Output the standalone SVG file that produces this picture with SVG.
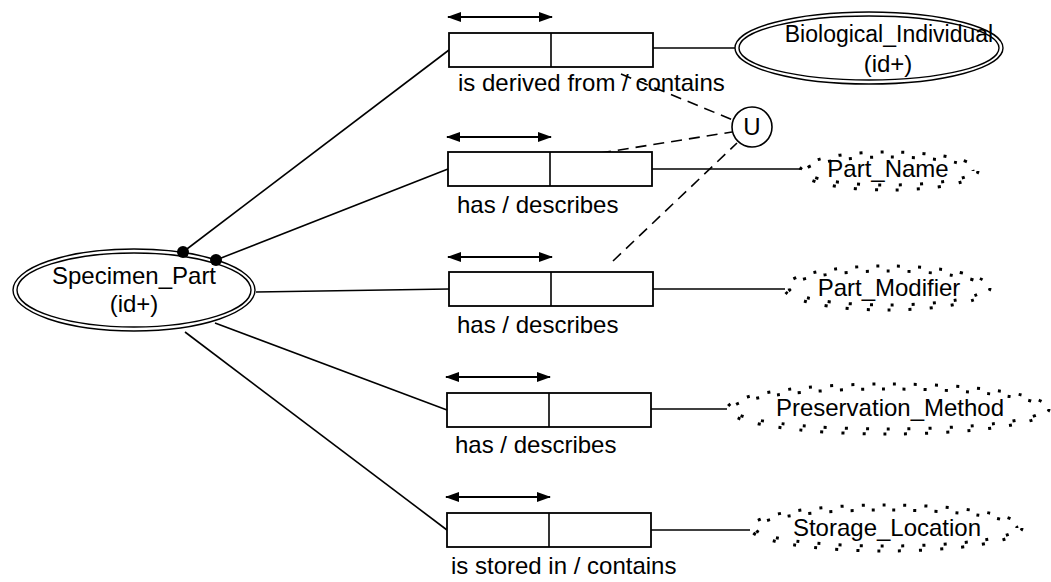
<svg xmlns="http://www.w3.org/2000/svg" width="1051" height="582" viewBox="0 0 1051 582">
<style>
text{font-family:"Liberation Sans",Arial,sans-serif;font-size:24px;fill:#000}
.c{text-anchor:middle}
.ln{stroke:#000;stroke-width:1.6;fill:none}
.dash{stroke:#000;stroke-width:1.6;fill:none;stroke-dasharray:11 7}
.box{fill:#fff;stroke:#000;stroke-width:1.8}
.dbl{fill:none;stroke:#000;stroke-width:1.4}
.dot{fill:none;stroke:#000;stroke-width:3;stroke-dasharray:3 18}
.arr{stroke:#000;stroke-width:2;marker-start:url(#ah);marker-end:url(#ah)}
</style>
<defs>
<marker id="ah" viewBox="0 0 14 10" refX="13" refY="5" markerWidth="14" markerHeight="10" markerUnits="userSpaceOnUse" orient="auto-start-reverse">
<path d="M0,0 L14,5 L0,10 Z" fill="#000"/>
</marker>
</defs>
<rect width="1051" height="582" fill="#fff"/>
<g id="connectors">
<line class="ln" x1="183" y1="252" x2="449" y2="50"/>
<line class="ln" x1="216" y1="260" x2="448" y2="169"/>
<line class="ln" x1="256" y1="292" x2="449" y2="289"/>
<line class="ln" x1="215" y1="323" x2="447" y2="410"/>
<line class="ln" x1="185" y1="332" x2="447" y2="530"/>
<line class="ln" x1="653" y1="48" x2="735" y2="48"/>
<line class="ln" x1="652" y1="169" x2="800" y2="169"/>
<line class="ln" x1="653" y1="289" x2="785" y2="289"/>
<line class="ln" x1="651" y1="409" x2="727" y2="409"/>
<line class="ln" x1="651" y1="530" x2="750" y2="530"/>
<line class="dash" x1="621" y1="74" x2="733" y2="120"/>
<line class="dash" x1="600" y1="153" x2="732" y2="132"/>
<line class="dash" x1="613" y1="261" x2="737" y2="143"/>
</g>
<g id="specimen_part">
<ellipse class="dbl" cx="134" cy="290" rx="121" ry="41"/>
<ellipse class="dbl" cx="134" cy="290" rx="117" ry="37"/>
<circle cx="183" cy="252" r="6" fill="#000"/>
<circle cx="216" cy="260" r="6" fill="#000"/>
<text class="c" x="134" y="284">Specimen_Part</text>
<text class="c" x="134" y="312">(id+)</text>
</g>
<g id="rel1">
<line class="arr" x1="448" y1="17" x2="552" y2="17"/>
<rect class="box" x="449" y="33" width="204" height="34"/>
<line class="ln" x1="551" y1="33" x2="551" y2="67"/>
<text x="458" y="91">is derived from / contains</text>
</g>
<g id="rel2">
<line class="arr" x1="447" y1="137" x2="551" y2="137"/>
<rect class="box" x="448" y="152" width="204" height="34"/>
<line class="ln" x1="550" y1="152" x2="550" y2="186"/>
<text x="457" y="213">has / describes</text>
</g>
<g id="rel3">
<line class="arr" x1="448" y1="257" x2="552" y2="257"/>
<rect class="box" x="449" y="272" width="204" height="34"/>
<line class="ln" x1="551" y1="272" x2="551" y2="306"/>
<text x="457" y="333">has / describes</text>
</g>
<g id="rel4">
<line class="arr" x1="446" y1="377" x2="550" y2="377"/>
<rect class="box" x="447" y="393" width="204" height="34"/>
<line class="ln" x1="549" y1="393" x2="549" y2="427"/>
<text x="455" y="453">has / describes</text>
</g>
<g id="rel5">
<line class="arr" x1="446" y1="497" x2="550" y2="497"/>
<rect class="box" x="447" y="513" width="204" height="34"/>
<line class="ln" x1="549" y1="513" x2="549" y2="547"/>
<text x="451" y="574">is stored in / contains</text>
</g>
<g id="union">
<circle cx="752" cy="127" r="20" fill="#fff" stroke="#000" stroke-width="1.6"/>
<text class="c" x="752" y="135">U</text>
</g>
<g id="biological_individual">
<ellipse class="dbl" cx="869" cy="48" rx="134" ry="36"/>
<ellipse class="dbl" cx="869" cy="48" rx="130" ry="32"/>
<text class="c" x="889" y="42" style="font-size:23px">Biological_Individual</text>
<text class="c" x="888" y="72">(id+)</text>
</g>
<g id="part_name">
<ellipse class="dot" cx="889" cy="171" rx="89" ry="19"/>
<ellipse class="dot" cx="889" cy="171" rx="84" ry="14" stroke-dashoffset="10"/>
<text class="c" x="888" y="177">Part_Name</text>
</g>
<g id="part_modifier">
<ellipse class="dot" cx="887" cy="288" rx="103" ry="22"/>
<ellipse class="dot" cx="887" cy="288" rx="98" ry="17" stroke-dashoffset="10"/>
<text class="c" x="889" y="296">Part_Modifier</text>
</g>
<g id="preservation_method">
<ellipse class="dot" cx="888" cy="409" rx="161" ry="25"/>
<ellipse class="dot" cx="888" cy="409" rx="156" ry="20" stroke-dashoffset="10"/>
<text class="c" x="890" y="416">Preservation_Method</text>
</g>
<g id="storage_location">
<ellipse class="dot" cx="886" cy="528" rx="136" ry="23"/>
<ellipse class="dot" cx="886" cy="528" rx="131" ry="18" stroke-dashoffset="10"/>
<text class="c" x="887" y="536">Storage_Location</text>
</g>
</svg>
